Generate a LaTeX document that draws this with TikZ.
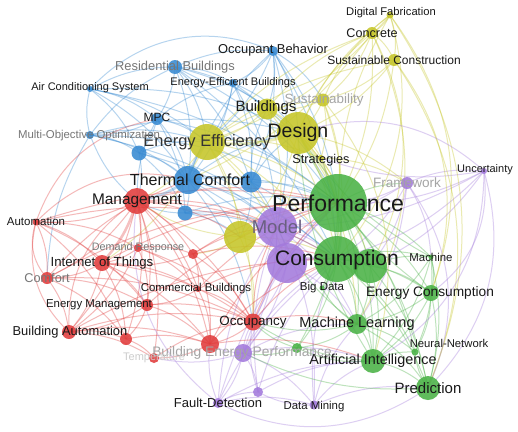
\documentclass[tikz,border=0pt]{standalone}
\usepackage{fontspec}
\setmainfont{Liberation Sans}
\usetikzlibrary{backgrounds}

\definecolor{vred}{RGB}{225,60,60}
\definecolor{vgreen}{RGB}{74,178,70}
\definecolor{vblue}{RGB}{55,138,210}
\definecolor{vyellow}{RGB}{198,198,40}
\definecolor{vpurple}{RGB}{163,122,220}
\definecolor{lblgray}{RGB}{118,118,118}
\definecolor{lblpale}{RGB}{165,165,165}
\definecolor{lblfaint}{RGB}{205,205,205}
\definecolor{lblmodel}{RGB}{105,95,128}

\newcommand{\kwfont}[1]{\fontsize{#1}{#1}\selectfont}

\begin{document}
\begin{tikzpicture}[x=1pt, y=-1pt,
  kw/.style={circle, draw=none, inner sep=0pt, minimum size=#1pt, fill opacity=0.88},
  lbl/.style={inner sep=0pt, text=black!90},
  link/.style={line width=1pt, draw opacity=0.36},
  blink/.style={link, vblue},
  ylink/.style={link, vyellow},
  plink/.style={link, vpurple},
  glink/.style={link, vgreen},
  rlink/.style={link, vred},
  strong/.style={line width=2.6pt, draw opacity=0.32}
]
  \useasboundingbox (0,0) rectangle (518,431);

  % blue cluster
  \node[kw=10, fill=vblue] (occbeh) at (273,51) {};
  \node[kw=14, fill=vblue] (resbld) at (175,67) {};
  \node[kw=8,  fill=vblue] (eeb)    at (233,83) {};
  \node[kw=6,  fill=vblue] (acs)    at (90,89) {};
  \node[kw=12, fill=vblue] (mpc)    at (157,119) {};
  \node[kw=8,  fill=vblue] (moo)    at (90,135) {};
  \node[kw=15, fill=vblue] (bl1)    at (139,153) {};
  \node[kw=28, fill=vblue] (thc)    at (188,180) {};
  \node[kw=21, fill=vblue] (bl2)    at (251,182) {};
  \node[kw=15, fill=vblue] (bl3)    at (185,213) {};

  % yellow cluster
  \node[kw=7,  fill=vyellow] (digfab) at (390,15) {};
  \node[kw=12, fill=vyellow] (concr)  at (372,33) {};
  \node[kw=12, fill=vyellow] (suscon) at (394,60) {};
  \node[kw=13, fill=vyellow] (sust)   at (323,100) {};
  \node[kw=21, fill=vyellow] (bldg)   at (267,109) {};
  \node[kw=6,  fill=vyellow] (strat)  at (321,158) {};
  \node[kw=36, fill=vyellow] (eneff)  at (207,142) {};
  \node[kw=42, fill=vyellow] (design) at (298,133) {};
  \node[kw=32, fill=vyellow] (yl1)    at (240,237) {};

  % purple cluster
  \node[kw=12, fill=vpurple] (framew) at (407,183) {};
  \node[kw=6,  fill=vpurple] (uncert) at (484,171) {};
  \node[kw=18, fill=vpurple] (bep)    at (243,353) {};
  \node[kw=10, fill=vpurple] (fault)  at (218,403) {};
  \node[kw=9,  fill=vpurple] (datam)  at (314,405) {};
  \node[kw=10, fill=vpurple] (pu2)    at (258,392) {};
  \node[kw=40, fill=vpurple] (model)  at (277,227) {};
  \node[kw=40, fill=vpurple] (pu1)    at (287,263) {};

  % green cluster
  \node[kw=5,  fill=vgreen] (machine) at (431,257) {};
  \node[kw=16, fill=vgreen] (encons)  at (431,293) {};
  \node[kw=5,  fill=vgreen] (bigdata) at (322,288) {};
  \node[kw=20, fill=vgreen] (ml)      at (357,324) {};
  \node[kw=7,  fill=vgreen] (nn)      at (415,352) {};
  \node[kw=24, fill=vgreen] (ai)      at (373,361) {};
  \node[kw=24, fill=vgreen] (pred)    at (428,388) {};
  \node[kw=10, fill=vgreen] (gr2)     at (297,348) {};
  \node[kw=34, fill=vgreen] (gr1)     at (370,266) {};
  \node[kw=46, fill=vgreen] (cons)    at (337,259) {};
  \node[kw=58, fill=vgreen] (perf)    at (338,203) {};

  % red cluster
  \node[kw=26, fill=vred] (manag)   at (137,201) {};
  \node[kw=7,  fill=vred] (autom)   at (36,222) {};
  \node[kw=8,  fill=vred] (demresp) at (138,248) {};
  \node[kw=10, fill=vred] (rd1)     at (193,254) {};
  \node[kw=16, fill=vred] (iot)     at (102,263) {};
  \node[kw=12, fill=vred] (comfort) at (47,278) {};
  \node[kw=6,  fill=vred] (combld)  at (198,289) {};
  \node[kw=12, fill=vred] (enman)   at (147,305) {};
  \node[kw=17, fill=vred] (occup)   at (253,322) {};
  \node[kw=14, fill=vred] (bauto)   at (69,332) {};
  \node[kw=12, fill=vred] (rd2)     at (126,339) {};
  \node[kw=18, fill=vred] (rd3)     at (210,344) {};
  \node[kw=10, fill=vred] (temp)    at (154,358) {};

  \begin{scope}[on background layer]
    \fill[white] (0,0) rectangle (518,431);
    % links, coloured by the first keyword
    \foreach \a/\b in {acs/resbld, acs/mpc, moo/acs, acs/thc, acs/bl1, acs/eneff, acs/perf,
      acs/design, resbld/occbeh, resbld/eeb, resbld/mpc, resbld/thc, resbld/eneff,
      resbld/design, resbld/perf, resbld/bl2, resbld/cons, moo/resbld, resbld/bldg,
      occbeh/eeb, thc/occbeh, occbeh/eneff, occbeh/design, occbeh/perf, occbeh/bl2,
      occbeh/cons, occbeh/model, occbeh/bldg, occbeh/sust,
      eeb/thc, eeb/eneff, eeb/bl2, eeb/perf, eeb/design, mpc/eeb, eeb/model,
      mpc/moo, mpc/thc, mpc/bl1, mpc/eneff, mpc/bl3, manag/mpc, mpc/perf,
      moo/bl1, moo/thc, moo/eneff, manag/moo, moo/perf, moo/design, comfort/moo, moo/cons,
      bl1/thc, bl1/eneff, bl1/manag, bl1/bl3, bl1/model,
      thc/bl2, thc/bl3, thc/perf, thc/model, thc/cons, thc/design, thc/occup,
      thc/yl1, thc/pu1, bl2/perf, bl2/design, bl2/model, bl2/cons, bl2/yl1, bl2/bldg,
      bl3/manag, bl3/model, bl3/yl1, bl3/perf, bl3/cons}
      \draw[blink] (\a.center) to[bend left=14] (\b.center);
    \foreach \a/\b in {digfab/concr, digfab/suscon, design/digfab, sust/digfab, perf/digfab,
      digfab/eneff, concr/suscon, design/concr, concr/sust, concr/perf, bldg/concr,
      eneff/concr, concr/thc, suscon/design, suscon/sust, suscon/perf, eneff/suscon,
      sust/design, sust/bldg, sust/perf, eneff/sust, sust/strat, bldg/design, bldg/eneff,
      bldg/perf, bldg/model, bldg/cons, design/strat, design/model, design/cons,
      design/yl1, design/gr1, design/framew, eneff/perf, eneff/model, eneff/cons,
      eneff/yl1, eneff/manag, eneff/strat, eneff/occup, eneff/pu1, strat/perf, strat/cons,
      strat/framew, yl1/model, yl1/perf, yl1/cons, yl1/pu1, yl1/occup, yl1/manag, yl1/rd1,
      design/ml, eneff/iot, sust/cons}
      \draw[ylink] (\a.center) to[bend left=14] (\b.center);
    \foreach \a/\b in {framew/uncert, framew/perf, framew/cons, framew/model, framew/gr1,
      framew/ml, framew/machine, uncert/perf, uncert/cons, uncert/strat, uncert/model,
      uncert/gr1, model/pu1, model/perf, model/cons, model/bep, model/ml, model/occup,
      model/datam, pu1/perf, pu1/gr1, pu1/bep, pu1/occup, pu1/ml, bep/fault,
      bep/datam, bep/pu2, bep/occup, bep/rd3, bep/ai, bep/ml, bep/cons, bep/perf,
      fault/datam, fault/pu2, fault/rd3, fault/ai, fault/cons, fault/perf, datam/pu2,
      datam/ai, datam/pred, datam/ml, datam/cons, pu2/ai, pu2/occup, pu2/cons,
      fault/model, pu2/model, bep/temp}
      \draw[plink] (\a.center) to[bend left=14] (\b.center);
    \foreach \a/\b in {perf/gr1, perf/machine, perf/encons, perf/ml, perf/ai, perf/pred,
      perf/nn, perf/bigdata, perf/gr2, cons/encons, cons/ml, cons/ai, cons/pred,
      cons/bigdata, cons/machine, cons/nn, cons/gr2, gr1/encons, gr1/ml, gr1/ai,
      gr1/pred, gr1/machine, machine/encons, machine/ml, machine/ai, machine/pred,
      machine/nn, encons/ml, encons/ai, encons/pred, encons/nn, ml/ai, ml/pred, ml/nn,
      ml/gr2, ml/bigdata, ai/pred, ai/nn, ai/gr2, pred/nn, gr2/occup, gr2/bep,
      ml/occup, ai/occup, pred/bep, encons/design, machine/design, perf/framew,
      ai/design, ml/model}
      \draw[glink] (\a.center) to[bend left=14] (\b.center);
    \foreach \a/\b in {manag/autom, manag/comfort, manag/bauto, manag/enman,
      manag/demresp, manag/rd1, manag/combld, manag/occup, manag/rd2, manag/rd3,
      manag/temp, manag/yl1, manag/perf, manag/cons, manag/model, autom/comfort,
      autom/iot, autom/enman, autom/demresp, autom/rd2, autom/perf, autom/model,
      demresp/iot, demresp/rd1, demresp/enman, demresp/combld, demresp/occup,
      demresp/bauto, rd1/iot, rd1/combld, rd1/occup, rd1/perf, rd1/cons, rd1/model,
      rd1/rd3, iot/comfort, iot/bauto, iot/enman, iot/rd2, iot/combld, iot/occup,
      iot/rd3, comfort/bauto, comfort/enman, comfort/rd2, comfort/thc, comfort/perf,
      combld/enman, combld/occup, combld/rd3, combld/perf, combld/cons, enman/bauto,
      enman/rd2, enman/rd3, enman/occup, enman/perf, occup/rd3, occup/perf, occup/cons,
      occup/ml, occup/model, bauto/rd2, bauto/temp, bauto/rd3, bauto/cons, rd2/rd3,
      rd2/temp, rd3/temp, rd3/perf, rd3/cons, rd3/ai, temp/occup, iot/perf,
      bauto/occup, comfort/occup}
      \draw[rlink] (\a.center) to[bend left=14] (\b.center);
    % long arcs round the edge of the map
    \draw[blink] (acs.center) to[bend left=35] (occbeh.center);
    \foreach \a/\b in {digfab/cons, digfab/pred, suscon/pred, concr/gr1, suscon/encons,
      concr/ml, digfab/encons, sust/ai}
      \draw[ylink] (\a.center) to[bend left=28] (\b.center);
    \foreach \a/\b in {design/uncert, uncert/pred, uncert/ai, framew/pred, pred/fault,
      uncert/encons, fault/manag}
      \draw[plink] (\a.center) to[bend left=30] (\b.center);
    \foreach \a/\b in {bauto/autom, comfort/autom, bauto/manag, autom/thc, autom/mpc}
      \draw[rlink] (\a.center) to[bend left=30] (\b.center);
    % strongest links
    \draw[glink, strong] (perf.center) to[bend left=12] (cons.center);
    \draw[glink, strong] (cons.center) to[bend left=12] (gr1.center);
    \draw[ylink, strong] (design.center) to[bend left=12] (perf.center);
    \draw[ylink, strong] (design.center) to[bend left=12] (eneff.center);
    \draw[blink, strong] (thc.center) to[bend left=12] (eneff.center);
    \draw[blink, strong] (thc.center) to[bend left=12] (manag.center);
    \draw[plink, strong] (pu1.center) to[bend left=12] (cons.center);
    \draw[rlink, strong] (manag.center) to[bend left=12] (iot.center);
  \end{scope}

  % labels
  \node[lbl, font=\kwfont{23}] (perf-l) at (338,203) {Performance};
  \node[lbl, font=\kwfont{21}] (cons-l) at (337,260) {Consumption};
  \node[lbl, font=\kwfont{19.5}] (design-l) at (298,132) {Design};
  \node[lbl, font=\kwfont{16.5}, text=black!80] (eneff-l) at (207,142) {Energy Efficiency};
  \node[lbl, font=\kwfont{18.5}, text=lblmodel] (model-l) at (277,227) {Model};
  \node[lbl, font=\kwfont{16}] (thc-l) at (190,180) {Thermal Comfort};
  \node[lbl, font=\kwfont{15.4}] (manag-l) at (137,201) {Management};
  \node[lbl, font=\kwfont{14.5}] (ml-l) at (357,324) {Machine Learning};
  \node[lbl, font=\kwfont{14.4}] (ai-l) at (373,361) {Artificial Intelligence};
  \node[lbl, font=\kwfont{15}] (pred-l) at (428,388) {Prediction};
  \node[lbl, font=\kwfont{13.7}] (encons-l) at (430,293) {Energy Consumption};
  \node[lbl, font=\kwfont{15}] (bldg-l) at (266,108) {Buildings};
  \node[lbl, font=\kwfont{13.2}] (iot-l) at (102,263) {Internet of Things};
  \node[lbl, font=\kwfont{12.9}] (bauto-l) at (70,332) {Building Automation};
  \node[lbl, font=\kwfont{13.4}] (occup-l) at (253,322) {Occupancy};
  \node[lbl, font=\kwfont{12.7}, text=lblgray] (comfort-l) at (47,278) {Comfort};
  \node[lbl, font=\kwfont{13.8}, text=lblpale] (bep-l) at (242,353) {Building Energy Performance};
  \node[lbl, font=\kwfont{12.9}, text=lblgray] (resbld-l) at (175,67) {Residential Buildings};
  \node[lbl, font=\kwfont{13.4}, text=lblpale] (sust-l) at (324,100) {Sustainability};
  \node[lbl, font=\kwfont{13.6}, text=lblpale] (framew-l) at (407,183) {Framework};
  \node[lbl, font=\kwfont{12}] (suscon-l) at (394,60) {Sustainable Construction};
  \node[lbl, font=\kwfont{12.6}] (concr-l) at (372,33) {Concrete};
  \node[lbl, font=\kwfont{11.2}] (digfab-l) at (391,13) {Digital Fabrication};
  \node[lbl, font=\kwfont{12.9}] (occbeh-l) at (273,50) {Occupant Behavior};
  \node[lbl, font=\kwfont{11}] (eeb-l) at (233,83) {Energy-Efficient Buildings};
  \node[lbl, font=\kwfont{11}] (acs-l) at (90,88) {Air Conditioning System};
  \node[lbl, font=\kwfont{12}] (mpc-l) at (157,117) {MPC};
  \node[lbl, font=\kwfont{11.4}, text=lblgray] (moo-l) at (89,136) {Multi-Objective Optimization};
  \node[lbl, font=\kwfont{12.7}] (strat-l) at (321,160) {Strategies};
  \node[lbl, font=\kwfont{11}] (uncert-l) at (485,170) {Uncertainty};
  \node[lbl, font=\kwfont{11.4}] (machine-l) at (431,257) {Machine};
  \node[lbl, font=\kwfont{11.3}] (nn-l) at (449,343) {Neural-Network};
  \node[lbl, font=\kwfont{11.5}] (bigdata-l) at (322,288) {Big Data};
  \node[lbl, font=\kwfont{11.4}] (datam-l) at (314,407) {Data Mining};
  \node[lbl, font=\kwfont{13}] (fault-l) at (218,403) {Fault-Detection};
  \node[lbl, font=\kwfont{11.5}] (autom-l) at (36,221) {Automation};
  \node[lbl, font=\kwfont{10.8}, text=lblgray] (demresp-l) at (138,248) {Demand Response};
  \node[lbl, font=\kwfont{11.4}] (combld-l) at (196,289) {Commercial Buildings};
  \node[lbl, font=\kwfont{11.4}] (enman-l) at (99,305) {Energy Management};
  \node[lbl, font=\kwfont{11}, text=lblfaint] (temp-l) at (154,358) {Temperature};
\end{tikzpicture}
\end{document}
